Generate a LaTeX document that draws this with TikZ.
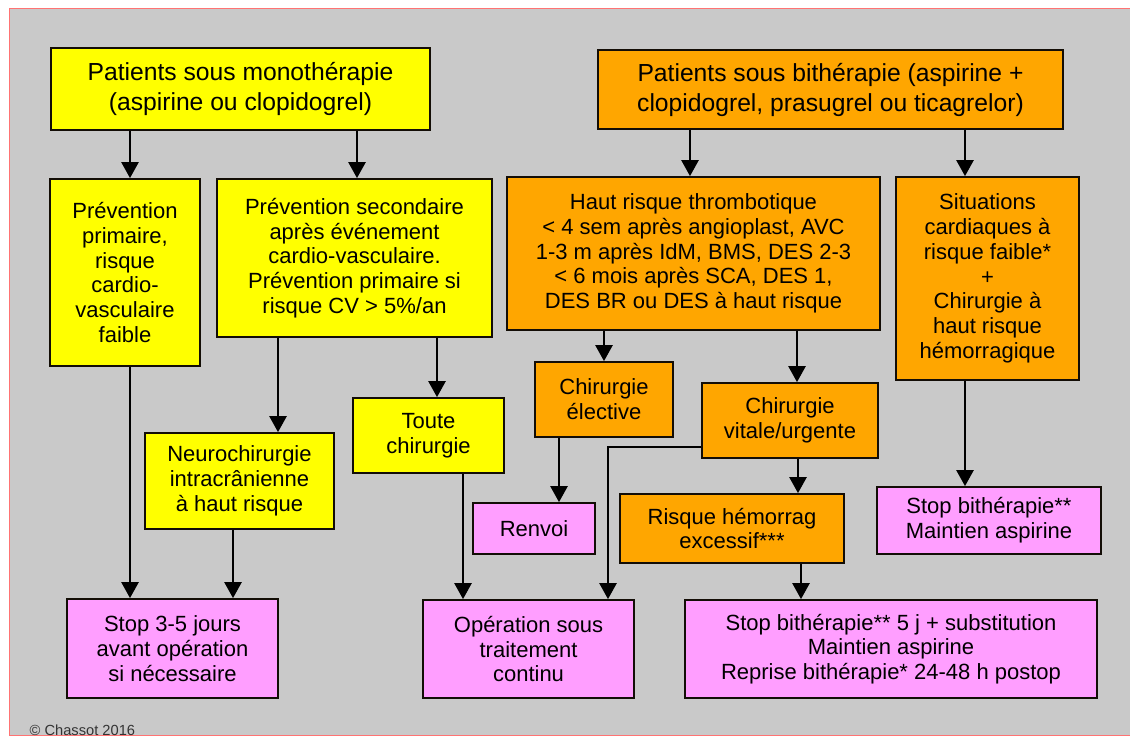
\documentclass[tikz,border=0pt]{standalone}
\usepackage{fontspec}
\setmainfont{Liberation Sans}
\usetikzlibrary{arrows.meta}

\definecolor{bggray}{RGB}{201,201,201}
\definecolor{boxyellow}{RGB}{255,255,0}
\definecolor{boxorange}{RGB}{255,166,0}
\definecolor{boxpink}{RGB}{255,158,255}
\newcommand\titlesize{\fontsize{18.5}{22.5}\selectfont}
\newcommand\boxsize{\fontsize{16.5}{18.6}\selectfont}

\begin{document}
\begin{tikzpicture}[x=0.75pt,y=-0.75pt,
        box/.style={draw=black!90!brown,line width=1.4pt,align=center,inner sep=0pt,font=\boxsize},
        yellow node/.style={box,fill=boxyellow},
        orange node/.style={box,fill=boxorange},
        pink node/.style={box,fill=boxpink},
        arrow/.style={line width=1.2pt,-{Triangle[width=13pt,length=12pt]}}]

    \useasboundingbox (0,0) rectangle (1130,746);
    \fill[white] (0,0) rectangle (1130,746);
    \draw[fill=bggray,draw=red!55,line width=0.8pt] (9.5,8.5) rectangle (1131,735.5);

    \node[yellow node,font=\titlesize,minimum width=284.25pt,minimum height=61.5pt] (mono) at (240.5,89)
        {Patients sous monothérapie\\(aspirine ou clopidogrel)};
    \node[orange node,font=\titlesize,minimum width=348.75pt,minimum height=59.25pt] (bi) at (830.5,89.5)
        {Patients sous bithérapie (aspirine +\\clopidogrel, prasugrel ou ticagrelor)};

    \node[yellow node,minimum width=112.5pt,minimum height=140.25pt] (prim) at (125,272.5)
        {Prévention\\primaire,\\risque\\cardio-\\vasculaire\\faible};
    \node[yellow node,minimum width=206.25pt,minimum height=118.5pt] (sec) at (354.5,258)
        {Prévention secondaire\\après événement\\cardio-vasculaire.\\Prévention primaire si\\risque CV > 5\%/an};
    \node[orange node,minimum width=279.75pt,minimum height=114.75pt] (haut) at (693.5,253.5)
        {Haut risque thrombotique\\< 4 sem après angioplast, AVC\\1-3 m après IdM, BMS, DES 2-3\\< 6 mois après SCA, DES 1,\\DES BR ou DES à haut risque};
    \node[orange node,minimum width=137.25pt,minimum height=152.25pt] (sit) at (987.5,278.5)
        {Situations\\cardiaques à\\risque faible*\\+\\Chirurgie à\\haut risque\\hémorragique};

    \node[yellow node,minimum width=141.75pt,minimum height=72pt] (neuro) at (239.5,481)
        {Neurochirurgie\\intracrânienne\\à haut risque};
    \node[yellow node,minimum width=113.25pt,minimum height=56.25pt] (toute) at (428.5,435.5)
        {Toute\\chirurgie};
    \node[orange node,minimum width=103.5pt,minimum height=56.25pt] (elect) at (604,399.5)
        {Chirurgie\\élective};
    \node[orange node,minimum width=132pt,minimum height=56.25pt] (vital) at (790,420.5)
        {Chirurgie\\vitale/urgente};

    \node[pink node,minimum width=91.5pt,minimum height=38.25pt] (renvoi) at (534,528.5) {Renvoi};
    \node[orange node,minimum width=168pt,minimum height=51.75pt] (risque) at (732,528.5)
        {Risque hémorrag\\excessif***};
    \node[pink node,minimum width=168pt,minimum height=50.25pt] (stopmaint) at (989,520.5)
        {Stop bithérapie**\\Maintien aspirine};

    \node[pink node,minimum width=158.25pt,minimum height=74.25pt] (stop35) at (172.5,648.5)
        {Stop 3-5 jours\\avant opération\\si nécessaire};
    \node[pink node,minimum width=158.25pt,minimum height=73.5pt] (oper) at (528.5,649)
        {Opération sous\\traitement\\continu};
    \node[pink node,minimum width=309pt,minimum height=73.5pt] (bigstop) at (891,649)
        {Stop bithérapie** 5 j + substitution\\Maintien aspirine\\Reprise bithérapie* 24-48 h postop};

    \node[anchor=west,font=\fontsize{11}{12}\selectfont,text=black!80] (copy) at (25,730) {© Chassot 2016};

    \draw[arrow] (mono.south -| 130,0) -- (prim.north -| 130,0);
    \draw[arrow] (mono.south -| 357,0) -- (sec.north -| 357,0);
    \draw[arrow] (bi.south -| 690,0) -- (haut.north -| 690,0);
    \draw[arrow] (bi.south -| 965,0) -- (sit.north -| 965,0);
    \draw[arrow] (prim.south -| 130,0) -- (stop35.north -| 130,0);
    \draw[arrow] (sec.south -| 278,0) -- (neuro.north -| 278,0);
    \draw[arrow] (sec.south -| 437,0) -- (toute.north -| 437,0);
    \draw[arrow] (neuro.south -| 233,0) -- (stop35.north -| 233,0);
    \draw[arrow] (toute.south -| 463,0) -- (oper.north -| 463,0);
    \draw[arrow] (haut.south -| 604,0) -- (elect.north -| 604,0);
    \draw[arrow] (haut.south -| 797,0) -- (vital.north -| 797,0);
    \draw[arrow] (elect.south -| 559,0) -- (renvoi.north -| 559,0);
    \draw[arrow] (vital.west |- 0,447) -| (oper.north -| 608,0);
    \draw[arrow] (vital.south -| 798,0) -- (risque.north -| 798,0);
    \draw[arrow] (risque.south -| 801,0) -- (bigstop.north -| 801,0);
    \draw[arrow] (sit.south -| 965,0) -- (stopmaint.north -| 965,0);
\end{tikzpicture}
\end{document}
